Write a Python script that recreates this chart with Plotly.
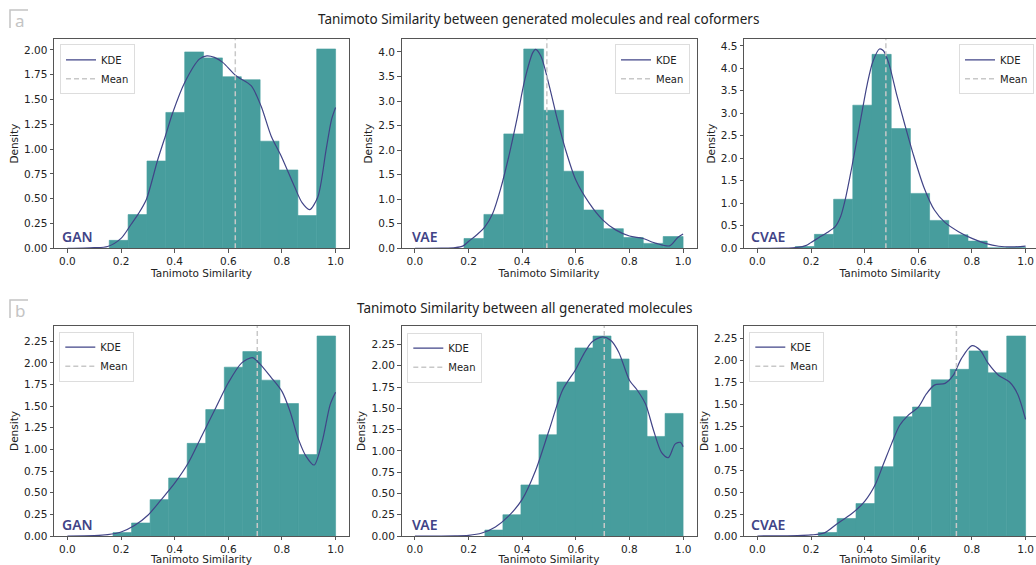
import numpy as np
import plotly.graph_objects as go

W, H = 1036, 565

# ------------------------------------------------------------------ data
model_names = ["GAN", "VAE", "CVAE"]
row_titles = ["Tanimoto Similarity between generated molecules and real coformers",
              "Tanimoto Similarity between all generated molecules"]
row_tags = ["a", "b"]
x_tick_vals = [0.0, 0.2, 0.4, 0.6, 0.8, 1.0]

# row a : generated vs real coformers
gan_real_bin_range = [0.156, 1.0]
gan_real_density = [0.08, 0.34, 0.88, 1.37, 1.98, 1.92, 1.73, 1.70, 1.08, 0.79, 0.33, 2.01]
gan_real_kde_x = [0, 0.06, 0.1, 0.15, 0.2, 0.237, 0.265, 0.294, 0.337, 0.365, 0.393, 0.437,
                  0.493, 0.52, 0.548, 0.579, 0.629, 0.685, 0.722, 0.76, 0.797, 0.847, 0.875,
                  0.903, 0.934, 0.965, 0.985, 1.0]
gan_real_kde_y = [0, 0.002, 0.006, 0.018, 0.1, 0.24, 0.35, 0.49, 0.895, 1.13, 1.37, 1.67,
                  1.91, 1.94, 1.925, 1.875, 1.74, 1.64, 1.435, 1.13, 0.93, 0.62, 0.46,
                  0.39, 0.52, 1.0, 1.3, 1.42]
gan_real_mean = 0.626

vae_real_bin_range = [0.183, 1.0]
vae_real_density = [0.20, 0.69, 2.33, 4.06, 2.81, 1.57, 0.78, 0.40, 0.22, 0.10, 0.24]
vae_real_kde_x = [0, 0.1, 0.15, 0.18, 0.2, 0.23, 0.26, 0.29, 0.32, 0.35, 0.38, 0.41, 0.44,
                  0.45, 0.47, 0.5, 0.53, 0.56, 0.6, 0.65, 0.7, 0.75, 0.8, 0.85, 0.9, 0.95,
                  0.98, 1.0]
vae_real_kde_y = [0, 0.003, 0.014, 0.05, 0.14, 0.27, 0.43, 0.71, 1.22, 1.87, 2.62, 3.44, 3.99,
                  4.05, 3.91, 3.33, 2.65, 2.04, 1.39, 0.92, 0.58, 0.37, 0.25, 0.2, 0.10, 0.05,
                  0.22, 0.29]
vae_real_mean = 0.492

cvae_real_bin_range = [0.141, 1.0]
cvae_real_density = [0.04, 0.31, 1.09, 3.18, 4.31, 2.66, 1.22, 0.62, 0.30, 0.16, 0.01, 0.02]
cvae_real_kde_x = [0, 0.1, 0.15, 0.18, 0.2, 0.23, 0.26, 0.29, 0.31, 0.33, 0.35, 0.38, 0.41,
                   0.43, 0.455, 0.47, 0.49, 0.52, 0.55, 0.58, 0.62, 0.66, 0.7, 0.75, 0.8,
                   0.85, 0.9, 0.95, 1.0]
cvae_real_kde_y = [0, 0.002, 0.02, 0.06, 0.13, 0.24, 0.35, 0.48, 0.70, 1.15, 1.74, 2.70, 3.66,
                   4.14, 4.43, 4.39, 4.11, 3.40, 2.74, 2.11, 1.37, 0.85, 0.57, 0.37, 0.22,
                   0.11, 0.045, 0.03, 0.05]
cvae_real_mean = 0.479

# row b : among all generated molecules
gan_all_bin_range = [0.170, 1.0]
gan_all_density = [0.04, 0.15, 0.42, 0.67, 1.07, 1.46, 1.95, 2.13, 1.80, 1.53, 0.94, 2.31]
gan_all_kde_x = [0, 0.1, 0.15, 0.2, 0.25, 0.3, 0.35, 0.4, 0.45, 0.5, 0.55, 0.6, 0.65, 0.69,
                 0.72, 0.76, 0.8, 0.83, 0.86, 0.89, 0.92, 0.95, 0.98, 1.0]
gan_all_kde_y = [0, 0.004, 0.015, 0.046, 0.12, 0.24, 0.42, 0.61, 0.84, 1.15, 1.46, 1.77, 2.0,
                 2.06, 1.98, 1.83, 1.67, 1.44, 1.13, 0.92, 0.82, 1.09, 1.52, 1.66]
gan_all_mean = 0.708

vae_all_bin_range = [0.261, 1.0]
vae_all_density = [0.07, 0.25, 0.60, 1.19, 1.81, 2.21, 2.35, 2.08, 1.71, 1.17, 1.44]
vae_all_kde_x = [0, 0.15, 0.2, 0.25, 0.3, 0.35, 0.4, 0.45, 0.5, 0.55, 0.6, 0.63, 0.66, 0.7,
                 0.73, 0.76, 0.8, 0.83, 0.86, 0.89, 0.92, 0.945, 0.97, 0.99, 1.0]
vae_all_kde_y = [0, 0.002, 0.008, 0.035, 0.106, 0.236, 0.43, 0.77, 1.24, 1.71, 1.96, 2.14,
                 2.28, 2.34, 2.30, 2.16, 1.83, 1.71, 1.55, 1.24, 0.98, 0.92, 1.08, 1.10, 1.05]
vae_all_mean = 0.706

cvae_all_bin_range = [0.227, 1.0]
cvae_all_density = [0.04, 0.20, 0.37, 0.79, 1.36, 1.47, 1.78, 1.90, 2.11, 1.86, 2.28]
cvae_all_kde_x = [0, 0.1, 0.15, 0.2, 0.25, 0.3, 0.35, 0.4, 0.44, 0.47, 0.5, 0.53, 0.56, 0.6,
                  0.63, 0.66, 0.7, 0.73, 0.76, 0.8, 0.83, 0.86, 0.9, 0.94, 0.97, 1.0]
cvae_all_kde_y = [0, 0.002, 0.004, 0.012, 0.035, 0.146, 0.25, 0.395, 0.59, 0.82, 1.05, 1.26,
                  1.37, 1.47, 1.62, 1.72, 1.74, 1.83, 2.02, 2.17, 2.12, 1.97, 1.83, 1.755,
                  1.62, 1.33]
cvae_all_mean = 0.742

panels = [
    (gan_real_bin_range, gan_real_density, gan_real_kde_x, gan_real_kde_y, gan_real_mean),
    (vae_real_bin_range, vae_real_density, vae_real_kde_x, vae_real_kde_y, vae_real_mean),
    (cvae_real_bin_range, cvae_real_density, cvae_real_kde_x, cvae_real_kde_y, cvae_real_mean),
    (gan_all_bin_range, gan_all_density, gan_all_kde_x, gan_all_kde_y, gan_all_mean),
    (vae_all_bin_range, vae_all_density, vae_all_kde_x, vae_all_kde_y, vae_all_mean),
    (cvae_all_bin_range, cvae_all_density, cvae_all_kde_x, cvae_all_kde_y, cvae_all_mean),
]
y_tick_steps = [0.25, 0.5, 0.5, 0.25, 0.25, 0.25]
y_tick_fmt = ["%.2f", "%.1f", "%.1f", "%.2f", "%.2f", "%.2f"]

# ------------------------------------------------------------------ style / layout
BAR = "#479d9d"
KDE = "#414487"
MEAN = "#c8c8c8"
SPINE = "#555555"
TXT = "#222222"
TICKFONT = dict(family="DejaVu Sans", size=10.5, color=TXT)

col_px = [(54.0, 349.0), (401.5, 696.5), (744.0, 1036.0)]
row_px = [(39.0, 248.3), (326.0, 536.0)]
px_per_unit = (349.0 - 54.0) / 1.1

def fx(p):
    return p / W

def fy(p):
    return 1 - p / H

legend_pos = [  # (x px, y px, xanchor)
    (60.0, 44.3, "left"), (690.0, 44.3, "right"), (1034.0, 44.3, "right"),
    (59.3, 331.7, "left"), (407.3, 332.7, "left"), (749.3, 331.7, "left"),
]

fig = go.Figure()
layout = dict(width=W, height=H, margin=dict(l=0, r=0, t=0, b=0, pad=0, autoexpand=False),
              autosize=False, plot_bgcolor="white", paper_bgcolor="white", showlegend=True,
              barmode="overlay")
annotations = []
shapes = []

for i, (brange, dens, kx, ky, mean) in enumerate(panels):
    r, c = divmod(i, 3)
    n = i + 1
    xs = "x" if n == 1 else f"x{n}"
    ys = "y" if n == 1 else f"y{n}"
    lg = "legend" if n == 1 else f"legend{n}"

    edges = np.linspace(brange[0], brange[1], len(dens) + 1)
    centers = (edges[:-1] + edges[1:]) / 2
    widths = np.diff(edges)
    ytop = 1.05 * max(max(dens), max(ky))

    fig.add_trace(go.Bar(x=centers, y=dens, width=widths, xaxis=xs, yaxis=ys,
                         marker=dict(color=BAR, line=dict(color=BAR, width=0.6)),
                         showlegend=False, hoverinfo="x+y"))
    fig.add_trace(go.Scatter(x=kx, y=ky, mode="lines", name="KDE", xaxis=xs, yaxis=ys,
                             line=dict(color=KDE, width=1.2, shape="spline", smoothing=0.8),
                             legend=lg))
    fig.add_trace(go.Scatter(x=[mean, mean], y=[0, ytop], mode="lines", name="Mean",
                             xaxis=xs, yaxis=ys,
                             line=dict(color=MEAN, width=1.5, dash="5px,3px"), legend=lg))

    x0p, x1p = col_px[c]
    y0p, y1p = row_px[r]
    xr = [-0.05, -0.05 + (x1p - x0p) / px_per_unit]
    ax_common = dict(showgrid=False, zeroline=False, showline=True, linecolor=SPINE,
                     linewidth=0.9, ticks="outside", ticklen=3.5, tickwidth=0.9,
                     tickcolor=SPINE, tickfont=TICKFONT, automargin=False)
    layout["xaxis" if n == 1 else f"xaxis{n}"] = dict(
        ax_common, domain=[fx(x0p), fx(x1p)], range=xr, anchor=ys, mirror=True,
        tickvals=x_tick_vals, ticktext=["%.1f" % v for v in x_tick_vals],
        title=dict(text="Tanimoto Similarity", font=TICKFONT, standoff=3))
    step = y_tick_steps[i]
    yt = list(np.arange(0, ytop + 1e-9, step))
    layout["yaxis" if n == 1 else f"yaxis{n}"] = dict(
        ax_common, domain=[fy(y1p), fy(y0p)], range=[0, ytop], anchor=xs,
        mirror=(c != 2), tickvals=yt, ticktext=[y_tick_fmt[i] % v for v in yt],
        title=dict(text="Density", font=TICKFONT, standoff=3))

    lx, ly, la = legend_pos[i]
    layout[lg] = dict(x=fx(lx), y=fy(ly), xanchor=la, yanchor="top",
                      bgcolor="rgba(255,255,255,0.85)", bordercolor="#dddddd", borderwidth=1,
                      font=dict(family="DejaVu Sans", size=10, color=TXT),
                      itemwidth=30, tracegroupgap=0)

    annotations.append(dict(text=model_names[c], xref=xs, x=-0.05 + 0.08 * 1.1,
                            yref=f"{ys} domain", y=11.5 / (y1p - y0p), yanchor="middle",
                            xanchor="center", showarrow=False,
                            font=dict(family="Noto Sans", size=14, color=KDE, weight=600)))

# row titles and tags
title_pos = [(538, 19), (524, 308)]
tag_pos = [(10.0, 20.0), (10.0, 310.0)]
for r in range(2):
    tx, ty = title_pos[r]
    annotations.append(dict(text=row_titles[r], xref="paper", yref="paper", x=fx(tx), y=fy(ty),
                            xanchor="center", yanchor="middle", showarrow=False,
                            font=dict(family="Noto Sans", size=13.5, color=TXT)))
    gx, gy = tag_pos[r]
    annotations.append(dict(text=row_tags[r], xref="paper", yref="paper", x=fx(gx + 10),
                            y=fy(gy), xanchor="center", yanchor="middle", showarrow=False,
                            font=dict(family="Noto Sans", size=17, color="#c4c4c4")))
    shapes.append(dict(type="path", xref="paper", yref="paper",
                       path=f"M {fx(gx)},{fy(gy + 8)} L {fx(gx)},{fy(gy - 10)} L {fx(gx + 18)},{fy(gy - 10)}",
                       line=dict(color="#c4c4c4", width=1.5)))

layout["annotations"] = annotations
layout["shapes"] = shapes
fig.update_layout(**layout)
fig.write_html("out.html")
